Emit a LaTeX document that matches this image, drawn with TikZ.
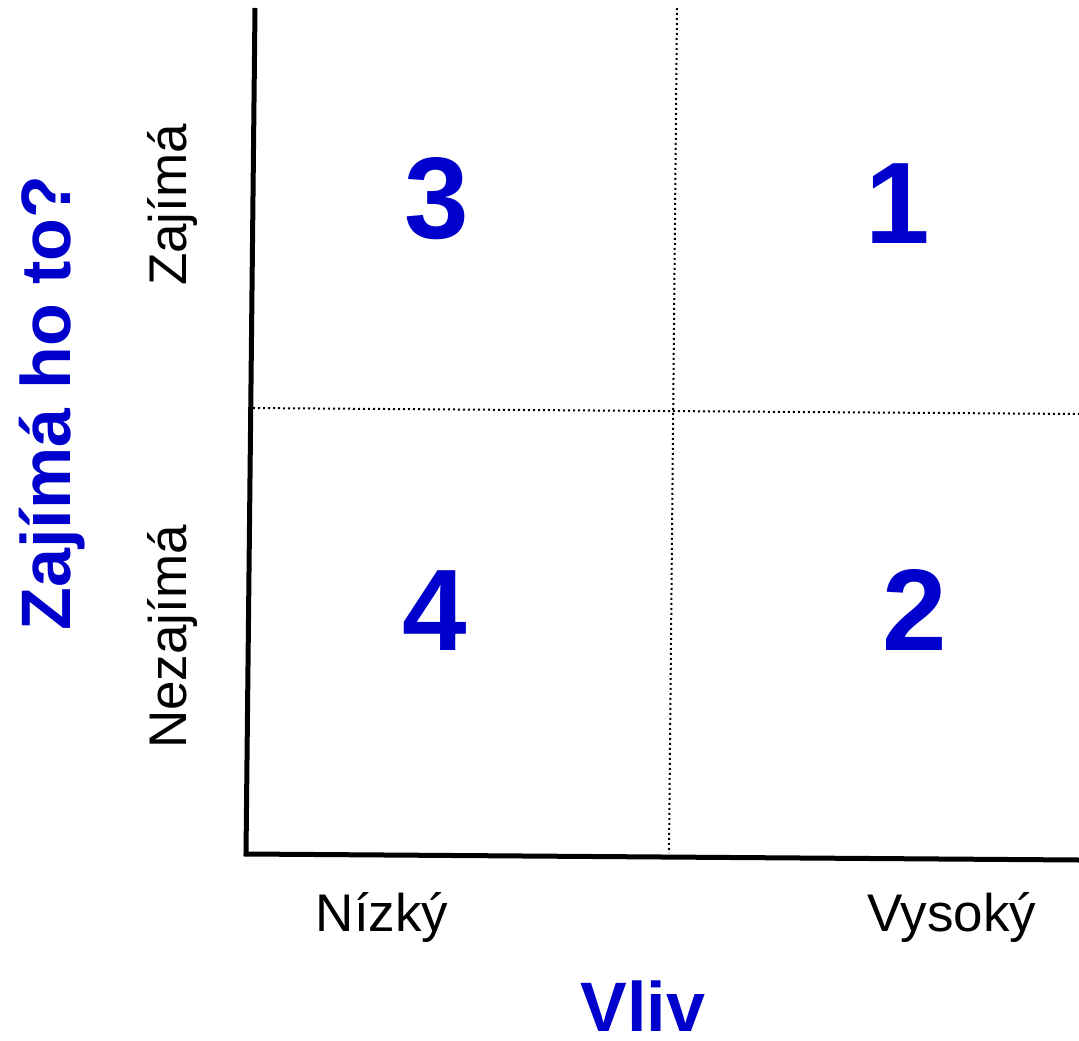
\documentclass[tikz,border=0pt]{standalone}
\usepackage{fontspec}
\setmainfont{Liberation Sans}
\definecolor{qblue}{RGB}{0,0,204}
\begin{document}
\begin{tikzpicture}[x=1pt,y=-1pt,
  axis/.style={line width=5pt,black},
  grid/.style={line width=2pt,black,dash pattern=on 2pt off 3pt},
  quadnum/.style={anchor=base,text=qblue,font=\fontsize{116}{120}\selectfont\bfseries,inner sep=0pt},
  title/.style={anchor=base,text=qblue,font=\fontsize{70}{80}\selectfont\bfseries,inner sep=0pt},
  lbl/.style={anchor=base,text=black,font=\fontsize{53}{60}\selectfont,inner sep=0pt}]
\useasboundingbox[fill=white] (0,0) rectangle (1079,1041);
% axes
\coordinate (ytop) at (255,8);
\coordinate (orig) at (246,854);
\coordinate (xend) at (1079,860);
\draw[axis,line join=miter] (ytop) -- (orig) -- (xend);
% dotted dividers
\coordinate (vtop) at (677,8);
\coordinate (vbot) at (669,853);
\coordinate (hl) at (248,408);
\coordinate (hr) at (1079,414);
\draw[grid] (vtop) -- (vbot);
\draw[grid] (hl) -- (hr);
% quadrant numbers
\node[quadnum] (q3) at (437,238) {3};
\node[quadnum] (q1) at (898,243) {1};
\node[quadnum] (q4) at (435,650) {4};
\node[quadnum] (q2) at (915,650) {2};
% axis labels
\node[lbl] (nizky) at (382,931) {Nízký};
\node[lbl] (vysoky) at (952,931) {Vysoký};
\node[title] (vliv) at (643,1031) {Vliv};
\node[lbl,rotate=90] (zaj) at (186,205) {Zajímá};
\node[lbl,rotate=90] (nezaj) at (186,637) {Nezajímá};
\node[title,rotate=90] (ytitle) at (70,403) {Zajímá ho to?};
\end{tikzpicture}
\end{document}
